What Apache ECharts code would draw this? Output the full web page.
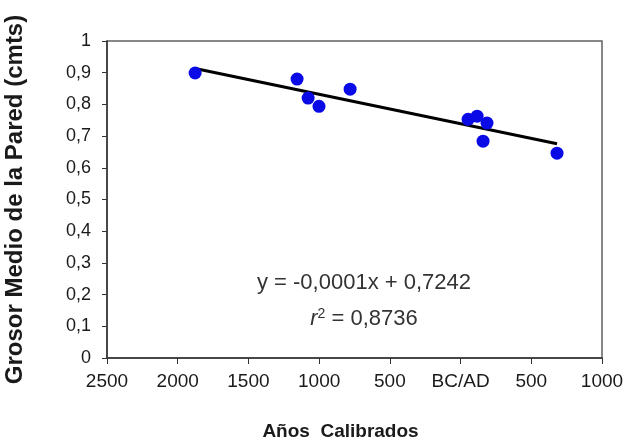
<!DOCTYPE html>
<html lang="es">
<head>
<meta charset="utf-8">
<script src="https://cdn.jsdelivr.net/npm/echarts@6/dist/echarts.min.js"></script>
<style>
	html, body { margin: 0; padding: 0; background: #fff; }
	#chart { width: 642px; height: 448px; }
</style>
</head>
<body>
<div id="chart"></div>
<script>
	// años calibrados (BC negativo, AD positivo) y grosor medio (cm)
	var years = [-1877, -1156, -1078, -1001, -781, 53, 117, 187, 159, 682];
	var grosor = [0.899, 0.880, 0.820, 0.794, 0.848, 0.753, 0.763, 0.741, 0.684, 0.646];
	var ecuacion = 'y = -0,0001x + 0,7242';
	var r2 = '0,8736';

	// recta de regresión a partir de los datos
	var n = years.length, mx = 0, my = 0;
	for (var i = 0; i < n; i++) { mx += years[i]; my += grosor[i]; }
	mx /= n; my /= n;
	var sxy = 0, sxx = 0;
	for (var i = 0; i < n; i++) {
		sxy += (years[i] - mx) * (grosor[i] - my);
		sxx += (years[i] - mx) * (years[i] - mx);
	}
	var pend = sxy / sxx, orig = my - pend * mx;
	var x0 = Math.min.apply(null, years), x1 = Math.max.apply(null, years);
	var trend = [[x0, orig + pend * x0], [x1, orig + pend * x1]];

	var puntos = years.map(function (x, k) { return [x, grosor[k]]; });

	var chart = echarts.init(document.getElementById('chart'));
	chart.setOption({
		animation: false,
		textStyle: { fontFamily: 'Liberation Sans, Arial, sans-serif' },
		grid: {
			left: 107, right: 40, top: 41, bottom: 90,
			outerBoundsMode: 'none', containLabel: false,
			show: true, borderColor: '#606060', borderWidth: 1.5, backgroundColor: '#fff'
		},
		xAxis: {
			type: 'value', min: -2500, max: 1000, interval: 500,
			name: 'Años  Calibrados', nameLocation: 'middle', nameGap: 64,
			nameTextStyle: { fontSize: 19, fontWeight: 'bold', color: '#1a1a1a', padding: [0, 28, 0, 0] },
			axisLine: { onZero: false, lineStyle: { color: '#333', width: 1.5 } },
			axisTick: { show: true, length: 6, lineStyle: { color: '#333' } },
			splitLine: { show: false },
			axisLabel: {
				fontSize: 19, color: '#1a1a1a', margin: 14,
				formatter: function (v) { return v === 0 ? 'BC/AD' : String(Math.abs(v)); }
			}
		},
		yAxis: {
			type: 'value', min: 0, max: 1, interval: 0.1,
			name: 'Grosor Medio de la Pared (cmts)', nameLocation: 'middle', nameGap: 80,
			nameTextStyle: { fontSize: 24, fontWeight: 'bold', color: '#1a1a1a' },
			axisLine: { show: true, onZero: false, lineStyle: { color: '#333', width: 1.5 } },
			axisTick: { show: true, length: 5, lineStyle: { color: '#333' } },
			splitLine: { show: false },
			axisLabel: {
				fontSize: 18, color: '#1a1a1a', margin: 16,
				formatter: function (v) { return String(Math.round(v * 10) / 10).replace('.', ','); }
			}
		},
		graphic: [
			{
				type: 'text', x: 364, y: 272,
				style: { text: ecuacion, fontSize: 22, fill: '#333', align: 'center', fontFamily: 'Liberation Sans, Arial' }
			},
			{
				type: 'text', x: 364, y: 307,
				style: {
					text: '{i|r}{s|2}{n| = ' + r2 + '}', align: 'center',
					rich: {
						i: { fontSize: 22, fontStyle: 'italic', fill: '#333', fontFamily: 'Liberation Sans' },
						s: { fontSize: 14, fill: '#333', verticalAlign: 'top', padding: [0, 0, 10, 0], fontFamily: 'Liberation Sans' },
						n: { fontSize: 22, fill: '#333', fontFamily: 'Liberation Sans' }
					}
				}
			}
		],
		series: [
			{
				type: 'line', data: trend, symbol: 'none', z: 2,
				lineStyle: { color: '#000', width: 3 }
			},
			{
				type: 'scatter', data: puntos, symbolSize: 13, z: 3,
				itemStyle: { color: '#0a0ae6', opacity: 1 }
			}
		]
	});
</script>
</body>
</html>
